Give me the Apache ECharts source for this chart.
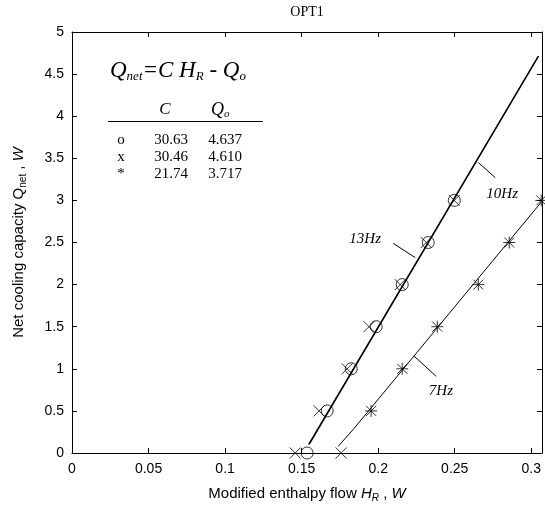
<!DOCTYPE html>
<html>
<head>
<meta charset="utf-8">
<script src="https://cdn.jsdelivr.net/npm/echarts@6/dist/echarts.min.js"></script>
<style>
  html, body { margin: 0; padding: 0; background: #fff; }
  #chart { width: 545px; height: 508px; }
</style>
</head>
<body>
<div id="chart"></div>
<script>
// Measured points: modified enthalpy flow H_R (W) vs net cooling capacity Q_net (W)
const circleH = [0.1536, 0.1667, 0.1824, 0.1987, 0.2157, 0.2327, 0.2497];
const circleQ = [0, 0.5, 1, 1.5, 2, 2.5, 3];
const crossH  = [0.1458, 0.1614, 0.1797, 0.1940, 0.2144, 0.2314, 0.2497];
const crossQ  = [0, 0.5, 1, 1.5, 2, 2.5, 3];
const starH   = [0.1954, 0.2157, 0.2386, 0.2654, 0.2856, 0.3065];
const starQ   = [0.5, 1, 1.5, 2, 2.5, 3];
const start7H = [0.1758];
const start7Q = [0];

// Fitted curves
const fit13H = [0.1545, 0.3045];
const fit13Q = [0.10, 4.71];
const fit10H = [0.1552, 0.3048];
const fit10Q = [0.11, 4.715];
const fit7H  = [0.1739, 0.1837, 0.3070];
const fit7Q  = [0.08, 0.28, 2.99];

// Curve labels with their leader lines (data coordinates)
const curveNames = ['13Hz', '10Hz', '7Hz'];
const nameAtH    = [0.1915, 0.2810, 0.2410];
const nameAtQ    = [2.54, 3.07, 0.735];
const leaderH    = [[0.2098, 0.2242], [0.2654, 0.2765], [0.2235, 0.2379]];
const leaderQ    = [[2.49, 2.32], [3.45, 3.27], [1.15, 0.91]];

// Fit coefficients table
const tableMarks = ['o', 'x', '*'];
const tableC     = ['30.63', '30.46', '21.74'];
const tableQo    = ['4.637', '4.610', '3.717'];

const xTicks = { min: 0, max: 0.307, interval: 0.05 };
const yTicks = { min: 0, max: 5, interval: 0.5 };

const zip = (a, b) => a.map((v, i) => [v, b[i]]);

const SANS = '"Liberation Sans", Arial, sans-serif';
const SERIF = '"Liberation Serif", "Times New Roman", serif';

const chart = echarts.init(document.getElementById('chart'), null, { renderer: 'canvas' });

const openStyle = { color: 'none', borderColor: '#000', borderWidth: 1 };
const crossPath = 'path://M0,0L10,10M10,0L0,10';
const starPath = 'path://M0,0L10,10M10,0L0,10M5,-1L5,11M-1,5L11,5';

const axisCommon = {
  type: 'value',
  axisLine: { show: true, onZero: false, lineStyle: { color: '#000', width: 1 } },
  axisTick: { show: true, inside: true, length: 5, lineStyle: { color: '#000', width: 1 } },
  splitLine: { show: false }
};

const leaderSeries = leaderH.map((hs, i) => ({
  type: 'line',
  data: zip(hs, leaderQ[i]),
  showSymbol: false,
  symbol: 'none',
  silent: true,
  lineStyle: { color: '#000', width: 1 },
  z: 3
}));

chart.setOption({
  animation: false,
  backgroundColor: '#fff',
  grid: { left: 72, right: 3, top: 32, bottom: 54 },
  xAxis: [
    Object.assign({}, axisCommon, xTicks, {
      position: 'bottom',
      axisLabel: { color: '#000', fontSize: 14, fontFamily: SANS, margin: 9, showMaxLabel: false },
      name: 'Modified enthalpy flow {it|H}{sub|R} , {it|W}',
      nameLocation: 'middle',
      nameGap: 32,
      nameTextStyle: {
        color: '#000', fontSize: 15, fontFamily: SANS,
        rich: {
          it: { fontSize: 15, fontStyle: 'italic', fontFamily: SANS, color: '#000' },
          sub: { fontSize: 10, fontStyle: 'italic', fontFamily: SANS, color: '#000', padding: [8, 0, 0, 0] }
        }
      }
    }),
    Object.assign({}, axisCommon, xTicks, { position: 'top', axisLabel: { show: false } })
  ],
  yAxis: [
    Object.assign({}, axisCommon, yTicks, {
      position: 'left',
      axisLabel: { color: '#000', fontSize: 14, fontFamily: SANS, margin: 8 },
      name: 'Net cooling capacity Q{sub|net} , {it|W}',
      nameLocation: 'middle',
      nameGap: 44,
      nameTextStyle: {
        color: '#000', fontSize: 15, fontFamily: SANS,
        rich: {
          it: { fontSize: 15, fontStyle: 'italic', fontFamily: SANS, color: '#000' },
          sub: { fontSize: 10, fontFamily: SANS, color: '#000', padding: [8, 0, 0, 0] }
        }
      }
    }),
    Object.assign({}, axisCommon, yTicks, { position: 'right', axisLabel: { show: false } })
  ],
  series: [
    { type: 'line', data: zip(fit13H, fit13Q), symbol: 'none', lineStyle: { color: '#000', width: 1.2 }, z: 2 },
    { type: 'line', data: zip(fit10H, fit10Q), symbol: 'none', lineStyle: { color: '#000', width: 1.2 }, z: 2 },
    { type: 'line', data: zip(fit7H, fit7Q), symbol: 'none', lineStyle: { color: '#000', width: 1 }, z: 2 },
    { type: 'scatter', data: zip(circleH, circleQ), symbol: 'circle', symbolSize: 12, itemStyle: openStyle, z: 4 },
    { type: 'scatter', data: zip(crossH, crossQ), symbol: crossPath, symbolSize: 11, itemStyle: openStyle, z: 4 },
    { type: 'scatter', data: zip(start7H, start7Q), symbol: crossPath, symbolSize: 11, itemStyle: openStyle, z: 4 },
    { type: 'scatter', data: zip(starH, starQ), symbol: starPath, symbolSize: 12, itemStyle: openStyle, z: 4 }
  ].concat(leaderSeries)
});

// Text overlays: title, equation, coefficient table and curve names
const graphics = [];
graphics.push({
  type: 'text', x: 307, y: 12,
  style: { text: 'OPT1', font: '14px ' + SERIF, fill: '#000', align: 'center', verticalAlign: 'middle' }
});
graphics.push({
  type: 'text', x: 110, y: 71,
  style: {
    text: '{q|Q}{s|net}{t|=C H}{s|R}{t| - Q}{s|o}',
    verticalAlign: 'middle',
    rich: {
      q: { fontFamily: SERIF, fontStyle: 'italic', fontSize: 23, fill: '#000' },
      t: { fontFamily: SERIF, fontStyle: 'italic', fontSize: 23, fill: '#000' },
      s: { fontFamily: SERIF, fontStyle: 'italic', fontSize: 13, fill: '#000', padding: [11, 0, 0, 0] }
    }
  }
});
graphics.push({
  type: 'text', x: 165, y: 110,
  style: { text: 'C', font: 'italic 17px ' + SERIF, fill: '#000', align: 'center', verticalAlign: 'middle' }
});
graphics.push({
  type: 'text', x: 211, y: 110,
  style: {
    text: '{q|Q}{s|o}', verticalAlign: 'middle',
    rich: {
      q: { fontFamily: SERIF, fontStyle: 'italic', fontSize: 18, fill: '#000' },
      s: { fontFamily: SERIF, fontStyle: 'italic', fontSize: 11, fill: '#000', padding: [8, 0, 0, 0] }
    }
  }
});
graphics.push({
  type: 'line', shape: { x1: 108, y1: 121.5, x2: 263, y2: 121.5 },
  style: { stroke: '#000', lineWidth: 1 }
});
tableMarks.forEach((m, i) => {
  const y = 140 + i * 17;
  graphics.push({ type: 'text', x: 121, y: y, style: { text: m, font: '15px ' + SERIF, fill: '#000', align: 'center', verticalAlign: 'middle' } });
  graphics.push({ type: 'text', x: 171, y: y, style: { text: tableC[i], font: '15px ' + SERIF, fill: '#000', align: 'center', verticalAlign: 'middle' } });
  graphics.push({ type: 'text', x: 225, y: y, style: { text: tableQo[i], font: '15px ' + SERIF, fill: '#000', align: 'center', verticalAlign: 'middle' } });
});
curveNames.forEach((nm, i) => {
  const p = chart.convertToPixel({ gridIndex: 0 }, [nameAtH[i], nameAtQ[i]]);
  graphics.push({
    type: 'text', x: p[0], y: p[1],
    style: { text: nm, font: 'italic 15px ' + SERIF, fill: '#000', align: 'center', verticalAlign: 'middle' }
  });
});
chart.setOption({ graphic: graphics });
</script>
</body>
</html>
